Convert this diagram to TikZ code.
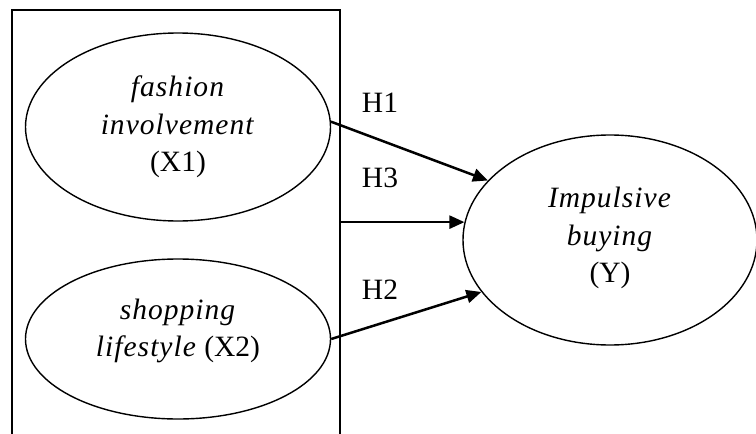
\documentclass[tikz,border=0pt]{standalone}
\usepackage{fontspec}
\setmainfont{Liberation Serif}[ItalicFeatures={LetterSpace=3.5}]
\usetikzlibrary{shapes.geometric,arrows.meta}
\begin{document}
\begin{tikzpicture}[x=1pt,y=-1pt,
  ell/.style={draw,ellipse,line width=1.4pt,inner sep=0pt},
  txt/.style={align=center,inner sep=0pt,font=\fontsize{29.5}{37.5}\selectfont},
  arr/.style={line width=2.5pt,-{Triangle[length=15pt,width=13pt]}}]
\useasboundingbox (0,0) rectangle (756,434);
\clip (0,0) rectangle (756,434);
\node[draw,rectangle,line width=1.4pt,minimum width=328pt,minimum height=450pt,inner sep=0pt] (box) at (176,235) {};
\node[ell,minimum width=305pt,minimum height=188pt] (x1) at (178,127) {};
\node[ell,minimum width=305pt,minimum height=160pt] (x2) at (178,339) {};
\node[ell,minimum width=294pt,minimum height=210pt] (y) at (610,240) {};
\node[txt] (t1) at (178,127) {\textit{fashion}\\\textit{involvement}\\(X1)};
\node[txt] (t2) at (178,331) {\textit{shopping}\\\textit{lifestyle} (X2)};
\node[txt] (ty) at (610,238) {\textit{Impulsive}\\\textit{buying}\\(Y)};
\node[txt] (h1) at (380,103) {H1};
\node[txt] (h3) at (380,178) {H3};
\node[txt] (h2) at (380,290) {H2};
\draw[arr] (x1.2) -- (y.154);
\draw[arr] (box.east |- y.173) -- (y.173);
\draw[arr] (x2.east) -- (y.202);
\end{tikzpicture}
\end{document}
